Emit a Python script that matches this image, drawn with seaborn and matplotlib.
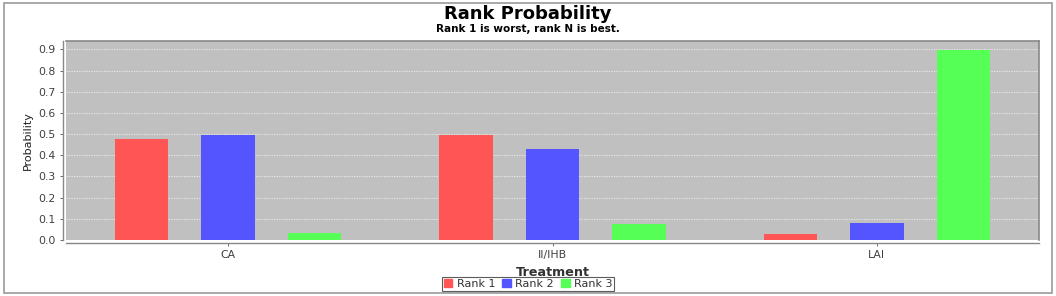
import matplotlib
matplotlib.use("Agg")
import matplotlib.pyplot as plt
import matplotlib.patches as mpatches
import pandas as pd
import seaborn as sns

# values
treatments = ["CA", "II/IHB", "LAI"]
ranks = ["Rank 1", "Rank 2", "Rank 3"]
rank1 = [0.479, 0.496, 0.030]
rank2 = [0.494, 0.429, 0.078]
rank3 = [0.031, 0.074, 0.896]
colors = ["#FF5555", "#5555FF", "#55FF55"]

# long table for seaborn
rows = []
for rank, vals in zip(ranks, [rank1, rank2, rank3]):
    for t, v in zip(treatments, vals):
        rows.append({"Treatment": t, "Rank": rank, "Probability": v})
df = pd.DataFrame(rows)

sns.set_style("white")
plt.rcParams["font.family"] = ["DejaVu Sans"]

fig = plt.figure(figsize=(10.56, 2.96), dpi=100)
ax = fig.add_axes([66 / 1056, 1 - 240 / 296, (1039 - 66) / 1056, (240 - 41) / 296])
ax.set_facecolor("#C0C0C0")

sns.barplot(data=df, x="Treatment", y="Probability", hue="Rank",
            palette=colors, width=0.8, gap=0.38, saturation=1,
            linewidth=0, ax=ax, legend=False)

ax.set_ylim(0, 0.94)
ax.set_xlim(-0.5, 2.5)
ax.set_yticks([i / 10 for i in range(10)])
ax.set_yticklabels([f"{i / 10:.1f}" for i in range(10)])
ax.tick_params(axis="both", labelsize=7.8, colors="#555555", length=2,
               width=0.6, direction="out", pad=3, left=True, bottom=True)
ax.tick_params(axis="both", labelcolor="#404040")

ax.yaxis.grid(True, color="#F0F0F0", linestyle=(0, (1.5, 1.5)), linewidth=0.6)
ax.set_axisbelow(True)

for side in ["top", "right"]:
    ax.spines[side].set_color("#888888")
    ax.spines[side].set_linewidth(1.2)
for side in ["left", "bottom"]:
    ax.spines[side].set_color("#888888")
    ax.spines[side].set_linewidth(1.0)
    ax.spines[side].set_position(("outward", 2.5))

ax.set_xlabel("Treatment", fontsize=9.2, fontweight="bold", color="#333333", labelpad=4)
ax.set_ylabel("Probability", fontsize=8, color="#222222", labelpad=4,
              family=["DejaVu Sans Condensed", "Liberation Sans Narrow", "DejaVu Sans"])

fig.text(0.5, 1 - 14 / 296, "Rank Probability", ha="center", va="center", color="black",
         fontsize=13, fontweight="bold")
fig.text(0.5, 1 - 28.5 / 296, "Rank 1 is worst, rank N is best.", ha="center", va="center",
         color="black", fontsize=7.5, fontweight="bold")

handles = [mpatches.Patch(color=c, label=r) for c, r in zip(colors, ranks)]
leg = fig.legend(handles=handles, loc="center", bbox_to_anchor=(528 / 1056, 1 - 284 / 296),
                 ncol=3, fontsize=8, frameon=True, fancybox=False, borderpad=0.15,
                 handlelength=0.8, handleheight=0.8, handletextpad=0.4,
                 columnspacing=0.6, borderaxespad=0)
leg.get_frame().set_edgecolor("#333333")
leg.get_frame().set_linewidth(0.8)
for t in leg.get_texts():
    t.set_color("#333333")

# outer chart border
fig.patches.append(mpatches.Rectangle((4 / 1056, 3 / 296), 1048 / 1056, 290 / 296,
                                      transform=fig.transFigure, fill=False,
                                      edgecolor="#999999", linewidth=1.2))

fig.savefig("out.png", dpi=100)
